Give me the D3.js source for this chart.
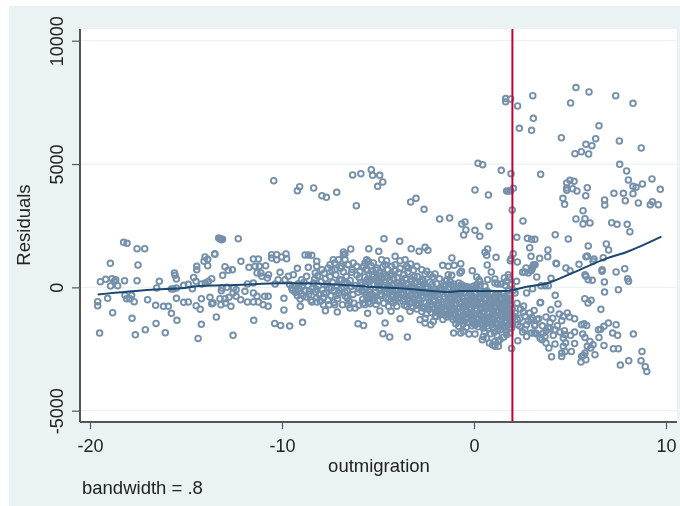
<!DOCTYPE html>
<html>
<head>
<meta charset="utf-8">
<script src="https://cdn.jsdelivr.net/npm/d3@7"></script>
<style>
  html, body { margin: 0; padding: 0; background: #fff; }
  svg { display: block; font-family: "Liberation Sans", Arial, sans-serif; }
</style>
</head>
<body>
<div id="chart"></div>
<script>
const xTicks = [-20, -10, 0, 10];
const yTicks = [-5000, 0, 5000, 10000];
const xTitle = 'outmigration';
const yTitle = 'Residuals';
const note = 'bandwidth = .8';
const cutoff = 2;

const loessX = [-19.6, -16.8, -15.05, -14.27, -12.45, -10, -9.3, -7, -5.24, -3.5, -1.25, -0.73, 0.31, 1.7, 2.74, 3.78, 5.17, 6.91, 7.95, 9.76];
const loessY = [-285, -93, -24, 57, 95, 162, 165, 110, 16, -53, -187, -146, -146, -146, 28, 160, 596, 1176, 1435, 2056];

// outliers above the main band
const upperPoints = [
  [-10.43,4327],[-9.2,3921],[-9.08,4083],[-8.35,4030],[-7.92,3718],[-7.69,3650],[-7.15,3852],
  [-6.32,4557],[-5.89,4610],[-5.35,4773],[-5.28,4542],[-4.91,4542],[-4.75,4274],[-5.02,4096],[-6.13,3313],
  [-3.3,3463],[-3.02,3609],[-2.6,3163],[-1.79,2773],[-1.27,2814],[-0.64,2571],[-0.47,2652],[-0.42,2327],
  [-0.54,2125],[0.05,2311],[0.3,2068],[0.78,2474],[0.71,1557],[0.57,1419],[-4.69,1975],[-3.87,1865],
  [-3.27,1570],[-2.86,1460],[-2.55,1622],[-2.4,1500],[-6.42,1557],[-5.48,1570],[-4.96,1460],[-6.8,1435],
  [0.21,5028],[0.45,4975],[1.42,4744],[1.93,4610],[0.05,3950],[0.75,3747],[1.7,3909],[1.8,3909],[1.91,3921],
  [2.05,4014],[1.99,3138],[1.65,7652],[1.65,7530],[1.91,7639],[2.27,7356],[3.06,7773],[3.09,6853],[2.36,6447],
  [3.0,6366],[5.31,8098],[5.99,7923],[5.03,7477],[7.38,7773],[8.28,7461],[6.51,6557],[4.55,6070],[6.34,6030],
  [7.57,5936],[8.71,5653],[5.83,5799],[6.14,5746],[5.26,5421],[5.59,5502],[5.97,5409],[7.59,4988],[7.95,4720],
  [8.04,4355],[3.47,4582],[9.27,4396],[8.77,4193],[9.7,3974],[8.28,4096],[8.44,4055],[8.28,3799],[7.78,3812],
  [7.29,3812],[7.88,3515],[8.56,3422],[9.18,3353],[9.29,3475],[9.6,3353],[6.8,3544],[6.81,3340],[5.9,4043],
  [5.82,3718],[5.36,3909],[4.995,4339],[5.21,4298],[4.83,4233],[5.14,4002],[4.83,4030],[4.83,3933],[4.63,3609],
  [4.72,3366],[5.68,3110],[5.31,2773],[5.78,2786],[5.68,2571],[6.04,2611],[7.17,2624],[7.45,2555],[7.98,2555],
  [8.12,2259],[2.55,2692],[4.23,2137],[4.91,1963],[5.95,1679],[6.89,1760],[7.01,1517],[2.23,2027],[2.78,1987],
  [3.0,1946],[3.17,1946],[2.9,1610],[3.85,1517],[2.04,1366]
];

// left tail, x below about -12
const leftPoints = [
  [-18.25,1825],[-18.07,1785],[-17.55,1570],[-17.15,1570],[-13.3,2000],[-13.23,1975],[-13.2,1960],[-13.15,1930],
  [-13.1,1950],[-12.28,1975],[-13.5,1366],[-18.94,973],[-17.5,908],[-19.46,231],[-19.18,324],[-18.85,353],
  [-18.73,243],[-18.66,312],[-18.93,57],[-18.56,69],[-18.2,272],[-17.55,272],[-16.39,243],[-16.53,-24],
  [-15.6,584],[-15.57,487],[-15.5,341],[-15.76,-65],[-15.66,-65],[-15.5,-24],[-15.12,81],[-14.88,122],[-14.6,405],
  [-14.48,243],[-14.67,-53],[-14.44,852],[-14.44,718],[-14.01,1233],[-13.87,1136],[-14.06,1054],[-13.87,879],
  [-13.5,1339],[-12.97,838],[-12.8,690],[-12.59,718],[-13.09,487],[-14.18,138],[-14.0,178],[-13.83,243],[-13.66,353],
  [-13.13,-24],[-12.87,0],[-12.52,-24],[-13.16,-134],[-19.6,-580],[-19.6,-742],[-19.08,-446],[-18.82,-1026],
  [-19.5,-1849],[-18.18,-324],[-18.09,-458],[-17.83,-324],[-17.92,-458],[-17.7,-580],[-17.0,-499],[-16.58,-730],
  [-16.17,-770],[-15.92,-770],[-15.76,-1054],[-15.47,-1338],[-17.81,-1257],[-15.5,-446],[-15.12,-608],[-14.88,-592],
  [-14.2,-458],[-14.47,-742],[-14.26,-892],[-13.75,-405],[-13.59,-633],[-13.66,-660],[-13.42,-1200],[-14.2,-1500],
  [-16.56,-1460],[-17.64,-1922],[-17.12,-1715],[-16.08,-1838],[-14.37,-2068],[-12.55,-1946],[-13.23,-458],[-12.97,-458],
  [-13.18,-702],[-12.94,-633],[-12.76,-405],[-12.66,-770],[-12.55,-227]
];

// middle, x from -12.4 to about -6
const middlePoints = [
  [-12.14,1054],[-11.49,1150],[-11.23,1150],[-10.54,1326],[-10.54,1189],[-10.28,1326],[-10.28,1123],[-9.79,1354],
  [-9.76,1164],[-10.02,1233],[-8.8,1314],[-8.63,1314],[-8.45,1298],[-11.72,811],[-11.4,852],[-11.18,852],[-10.85,879],
  [-11.3,584],[-11.1,584],[-9.2,771],[-10.1,608],[-8.63,811],[-8.19,1054],[-8.19,852],[-8.27,584],[-7.92,718],
  [-7.33,1123],[-7.25,990],[-7.5,920],[-7.6,787],[-7.07,1123],[-6.8,1326],[-6.9,852],[-7.25,718],[-10.7,515],[-10.76,381],
  [-11.05,446],[-10.2,312],[-11.49,178],[-11.8,138],[-10.36,138],[-9.67,446],[-9.41,515],[-8.72,446],[-8.98,312],[-9.84,312],
  [-11.93,-162],[-12.39,-93],[-12.39,-365],[-12.15,-499],[-11.8,-592],[-11.49,-227],[-11.3,-365],[-11.49,-592],[-11.23,-592],
  [-10.9,-365],[-10.72,-365],[-10.98,-702],[-10.72,-770],[-9.9,-446],[-9.9,-916],[-9.05,-770],[-11.47,-1338],[-10.38,-1460],
  [-10.07,-1541],[-9.6,-1566],[-8.93,-1419],[-7.74,-945],[-7.12,-998],[-8.44,-592],[-8.19,-592],[-7.85,-702],[-7.25,-702],
  [-9.6,120],[-9.5,-30],[-9.45,-120],[-9.3,60],[-9.3,-210],[-9.2,-340],[-9.15,150],[-9.1,-60],[-9.05,-470],[-9.0,-250],
  [-8.95,40],[-8.85,210],[-8.8,-130],[-8.75,-390],[-8.65,90],[-8.6,-280],[-8.5,-520],[-8.4,-40],[-8.35,180],[-8.3,340],
  [-8.25,-180],[-8.2,-420],[-8.15,470],[-8.1,60],[-8.05,-300],[-8.0,-560],[-7.95,230],[-7.9,-90],[-7.85,-410],[-7.8,580],
  [-7.75,350],[-7.7,-220],[-7.65,120],[-7.6,-520],[-7.55,-30],[-7.5,430],[-7.45,-340],[-7.4,690],[-7.35,200],[-7.3,-130],
  [-7.3,-610],[-7.2,510],[-7.15,70],[-7.1,-460],[-7.05,-240],[-7.0,300],[-6.95,780],[-6.9,-50],[-6.85,-700],[-6.8,620],
  [-6.75,180],[-6.7,-350],[-6.65,450],[-6.6,-140],[-6.55,930],[-6.5,-560],[-6.45,280],[-6.4,40],[-6.35,720],[-6.3,-290],
  [-6.72,1354],[-6.72,1123],[-6.29,990],[-6.55,920],[-6.11,852],[-6.46,-835],[-6.2,-835],[-6.55,-702]
];

// dense band, x from -6 to -1.4
const bandPoints = [
  [-4.11,1257],[-3.59,1123],[-3.85,1083],[-4.55,1083],[-4.81,1123],[-5.59,1123],[-5.5,1054],[-5.68,990],[-3.3,949],[-3.42,787],
  [-3.51,852],[-1.63,892],[-2.98,852],[-2.72,718],[-2.46,649],[-2.03,543],[-2.29,515],[-5.24,990],[-5.07,787],[-4.63,920],
  [-4.28,852],[-4.11,920],[-5.54,-1054],[-4.9,-957],[-4.32,-973],[-5.68,-702],[-5.42,-661],[-6.04,-1472],[-5.75,-1541],
  [-4.63,-1444],[-3.85,-1269],[-4.74,-1878],[-4.39,-2011],[-3.47,-2011],[-4.45,-770],[-4.02,-770],[-3.33,-973],[-3.5,-770],
  [-2.55,-1444],[-2.81,-1310],[-2.25,-1512],[-2.12,-1379],[-2.55,-1257],[-2.03,-1176],[-1.86,-1038],
  [-5.95,640],[-5.9,210],[-5.85,-120],[-5.8,-480],[-5.75,860],[-5.7,420],[-5.65,30],[-5.6,-300],[-5.55,680],[-5.5,-590],
  [-5.45,240],[-5.4,-80],[-5.35,880],[-5.3,520],[-5.25,-420],[-5.2,120],[-5.15,-220],[-5.1,700],[-5.05,360],[-5.0,-540],
  [-4.95,-40],[-4.9,600],[-4.85,220],[-4.8,-330],[-4.75,840],[-4.7,-640],[-4.65,80],[-4.6,460],[-4.55,-170],[-4.5,720],
  [-4.45,-480],[-4.4,290],[-4.35,-60],[-4.3,560],[-4.25,-290],[-4.2,-620],[-4.15,150],[-4.1,680],[-4.05,-120],[-4.0,400],
  [-3.95,-420],[-3.9,40],[-3.85,770],[-3.8,-230],[-3.75,240],[-3.7,-560],[-3.65,520],[-3.6,-60],[-3.55,-380],[-3.5,130],
  [-3.45,620],[-3.4,-180],[-3.35,-650],[-3.3,340],[-3.25,-30],[-3.2,-440],[-3.15,700],[-3.1,170],[-3.05,-260],[-3.0,-720],
  [-2.95,440],[-2.9,-90],[-2.85,-520],[-2.8,60],[-2.75,-340],[-2.7,-830],[-2.65,280],[-2.6,-170],[-2.55,540],[-2.5,-620],
  [-2.45,20],[-2.4,-400],[-2.35,-900],[-2.3,210],[-2.25,-230],[-2.2,-680],[-2.15,420],[-2.1,-70],[-2.05,-510],[-2.0,-1000],
  [-1.95,150],[-1.9,-300],[-1.85,-760],[-1.8,350],[-1.75,-110],[-1.7,-590],[-1.65,-1080],[-1.6,80],[-1.55,-370],[-1.5,-860],
  [-1.45,260],[-1.4,-190],[-1.4,-670],[-1.42,-1200],[-3.7,180],[-4.2,-350],[-5.3,-300],[-2.7,320],[-3.3,-300],[-4.8,380]
];

// second pass over the same band, it reads as nearly solid
const bandFill = [
  [-6.9,300],[-6.6,-430],[-6.37,610],[-6.2,80],[-6.05,-200],[-5.97,390],[-5.78,-640],[-5.62,720],[-5.48,-170],[-5.33,310],
  [-5.18,-520],[-5.02,120],[-4.88,-280],[-4.72,540],[-4.58,-430],[-4.46,60],[-4.33,-560],[-4.18,350],[-4.03,-330],[-3.92,590],
  [-3.78,-90],[-3.63,-480],[-3.52,310],[-3.38,-20],[-3.22,-590],[-3.12,430],[-3.02,-150],[-2.88,-700],[-2.78,230],[-2.66,-420],
  [-2.52,-20],[-2.42,-760],[-2.28,-330],[-2.18,130],[-2.08,-880],[-1.98,-200],[-1.88,-620],[-1.76,-1010],[-1.68,-40],[-1.58,-480],
  [-1.48,-1120],[-6.1,500],[-5.85,100],[-5.58,-420],[-5.28,660],[-4.98,240],[-4.68,-180],[-4.38,480],[-4.08,-520],[-3.82,100],
  [-3.48,-200],[-3.18,60],[-2.92,-300],[-2.62,120],[-2.32,-580],[-2.02,-360],[-1.72,-860],[-1.52,40],[-2.72,-980],[-2.48,-1080],
  [-2.22,-1020],[-1.96,-1180],[-1.62,-1300],[-2.98,-880],[-3.22,-820],[-3.62,-720],[-5.1,-690],[-6.25,-640],[-6.0,-720],[-7.55,-700],
  [-2.9,-640],[-2.58,-850],[-2.3,-760],[-2.12,-560],[-1.92,-900],[-1.64,-720],[-1.46,-980],[-3.42,-480],[-3.1,-520],[-2.78,-200],
  [-2.44,-250],[-2.14,-180],[-1.84,-90],[-4.52,-60],[-4.22,-180],[-3.94,-260],[-3.68,-300],[-5.72,-200],[-5.44,-460],[-5.12,-360],
  [-4.86,-130],[-4.62,210],[-4.28,90],[-3.98,180],[-3.58,360],[-3.26,240],[-5.56,320],[-5.22,440],[-4.92,460],[-4.5,400],[-6.02,-60],
  [-6.6,170],[-7.02,-110],[-7.42,-30],[-7.82,-250],[-8.22,-80],[-8.58,-150],[-8.9,-330],[-9.28,-90],[-6.72,-200],[-7.18,-330]
];

// right part of the main band, x from -1.4 to 9
const lowerPoints = [
  [-0.69,961],[-1.03,892],[-1.34,852],[0.66,1298],[1.15,1217],[1.93,1164],[1.89,1083],[2.26,1030],[-1.15,1192],[0.69,908],
  [-0.09,677],[0.9,624],[-0.73,584],[-0.65,649],[-1.16,487],[-1.34,515],[0.14,422],[0.26,312],[0.31,219],[0.71,312],[1.09,341],
  [1.58,381],[1.79,515],[1.82,405],[1.7,243],[2.22,243],[1.41,138],[1.23,138],[1.09,178],[1.62,81],[1.96,109],[-0.8,178],[-1.07,138],
  [-0.65,109],[-0.47,41],[-0.3,14],[-0.03,41],[0.14,109],[0.31,81],[0.57,41],[-1.42,312],[-1.25,243],[2.71,787],[2.65,624],[2.53,608],
  [2.83,584],[2.97,677],[3.09,892],[3.04,787],[3.18,920],[2.74,-227],[2.05,-122],[2.14,-227],[1.56,-255],[1.09,-405],[1.62,-592],[1.875,-499],
  [2.14,-1038],[2.26,-1310],[2.57,-998],[2.66,-1176],[2.4,-1257],[2.28,-1512],[2.4,-1581],[2.74,-1512],[2.74,-1987],[3.18,-1512],[3.21,-1849],
  [3.0,-1849],[2.53,-1809],[2.65,-1715],[2.28,-2161],[1.96,-2474],[1.35,-2121],[1.27,-2392],[1.09,-2392],[0.97,-2324],[0.8,-2255],[0.43,-2121],
  [0.48,-1987],[0.65,-2052],[1.27,-2190],[1.09,-2190],[1.7,-1918],[1.87,-1849],[1.96,-1646],[1.79,-1512],[1.62,-1379],[1.45,-1512],[0.05,-1890],
  [-0.26,-1890],[-0.56,-1784],[-0.69,-1849],[-1.06,-1849],[-0.56,-1485],[-0.8,-1581],[0.05,-1512],[-0.03,-1310],[0.48,-1646],
  [3.84,1244],[3.42,1176],[2.97,1257],[3.1,920],[3.05,811],[3.0,718],[4.27,973],[4.3,960],[5.83,1245],[5.9,1270],[6.25,1150],[6.2,1054],
  [6.73,1204],[5.47,933],[4.79,787],[5.0,677],[5.78,515],[5.83,446],[5.95,312],[6.16,284],[6.67,718],[6.67,649],[7.4,624],[7.85,758],
  [8.0,353],[8.05,243],[6.79,219],[6.8,-187],[7.52,-93],[3.27,422],[4.01,365],[3.49,69],[3.7,69],[3.87,69],[3.05,-53],[4.23,-324],[4.375,-673],
  [3.44,-620],[3.47,-610],[3.13,-933],[4.0,-904],[5.77,-458],[5.94,-633],[6.1,-527],[6.61,-892],[3.37,-1269],[3.75,-1200],[4.44,-1079],
  [4.65,-1176],[4.86,-1038],[4.97,-1200],[5.24,-1269],[4.57,-1350],[2.97,-1310],[3.16,-1553],[4.34,-1553],[3.87,-1622],[3.75,-1756],
  [5.73,-1472],[5.87,-1541],[5.6,-1512],[7.0,-1444],[7.4,-1512],[6.77,-1581],[6.48,-1715],[6.6,-1700],[7.22,-1849],[7.48,-1946],[8.3,-1890],
  [6.51,-2028],[5.66,-1890],[5.78,-2028],[6.04,-2190],[5.9,-2392],[6.2,-2324],[6.08,-2457],[6.77,-2352],[7.26,-2486],[7.52,-2486],[8.75,-2595],
  [6.3,-2729],[5.7,-2757],[5.78,-2660],[5.61,-2798],[5.83,-2932],[5.57,-3025],[8.06,-2972],[7.62,-3147],[8.7,-2972],[8.92,-3216],[9.0,-3406],
  [5.07,-2595],[5.24,-2271],[5.03,-1946],[5.24,-1809],[4.71,-1756],[4.48,-1809],[4.74,-1918],[4.65,-2052],[4.13,-1946],[4.22,-1715],[3.96,-1675],
  [3.54,-2121],[3.7,-1987],[3.44,-2052],[3.61,-1849],[4.22,-2295],[3.75,-2255],[3.9,-2457],[4.04,-2810],[4.57,-2660],[4.57,-2798],[4.74,-2595],
  [4.65,-2392],[4.77,-2255],[3.13,-1849],[3.27,-1890]
];

// the thick mass around x = 0
const centrePoints = [
  [-1.35,-60],[-1.3,-420],[-1.28,-780],[-1.25,-1050],[-1.2,120],[-1.18,-250],[-1.15,-610],[-1.12,-930],[-1.1,-1290],[-1.05,20],[-1.02,-350],
  [-1.0,-700],[-0.98,-1120],[-0.95,-1480],[-0.9,-150],[-0.88,-510],[-0.85,-860],[-0.82,-1220],[-0.78,60],[-0.75,-290],[-0.72,-640],[-0.7,-1000],
  [-0.66,-1370],[-0.62,-90],[-0.6,-440],[-0.58,-800],[-0.55,-1150],[-0.5,-200],[-0.48,-560],[-0.45,-920],[-0.42,-1270],[-0.4,-1620],[-0.36,-40],
  [-0.34,-380],[-0.3,-730],[-0.28,-1080],[-0.25,-1430],[-0.2,-160],[-0.18,-500],[-0.15,-850],[-0.12,-1200],[-0.1,-1560],[-0.06,-70],[-0.04,-420],
  [0.0,-760],[0.02,-1110],[0.05,-1380],[0.09,-220],[0.12,-570],[0.15,-920],[0.18,-1260],[0.22,-1600],[0.26,-110],[0.28,-460],[0.31,-810],[0.34,-1150],
  [0.38,-1480],[0.41,-280],[0.44,-640],[0.47,-990],[0.5,-1330],[0.54,-1790],[0.58,-170],[0.6,-520],[0.63,-870],[0.66,-1210],[0.7,-1560],[0.74,-340],
  [0.77,-700],[0.8,-1050],[0.83,-1400],[0.87,-1880],[0.9,-240],[0.93,-580],[0.96,-930],[1.0,-1270],[1.03,-1640],[1.07,-420],[1.1,-770],[1.13,-1120],
  [1.16,-1470],[1.2,-1950],[1.24,-310],[1.27,-650],[1.3,-1000],[1.33,-1340],[1.37,-1720],[1.4,-500],[1.43,-850],[1.46,-1190],[1.5,-1560],[1.54,-2020],
  [1.58,-380],[1.6,-730],[1.63,-1080],[1.66,-1420],[1.7,-1790],[1.73,-570],[1.76,-920],[1.79,-1260],[1.83,-1630],[1.87,-330],[1.9,-690],[1.93,-1040],
  [1.96,-1380],[1.99,-880],[1.98,-1150]
];

// second pass over the centre mass
const centreFill = [
  [-1.38,-300],[-1.22,-880],[-1.08,-180],[-0.94,-620],[-0.8,-1080],[-0.68,-240],[-0.52,-720],[-0.46,-1090],[-0.38,-560],[-0.24,-260],
  [-0.14,-1020],[-0.02,-600],[0.08,-40],[0.16,-1250],[0.24,-720],[0.36,-400],[0.48,-1080],[0.56,-760],[0.68,-150],[0.72,-1320],[0.84,-480],
  [0.92,-1130],[1.04,-840],[1.12,-300],[1.22,-1240],[1.32,-700],[1.42,-1080],[1.52,-260],[1.62,-900],[1.72,-1380],[1.84,-560],[1.92,-1200],
  [-1.2,-480],[-0.92,-1320],[-0.6,-1320],[-0.32,-1280],[-0.06,-1450],[0.2,-1430],[0.46,-1500],[0.76,-1660],[1.06,-1820],[1.34,-1600],[1.6,-1620],
  [-1.32,-1120],[-0.78,-420],[-0.42,-780],[-0.1,-340],[0.2,-380],[0.52,-240],[0.86,-780],[1.18,-560],[1.48,-440],[1.78,-140],[1.66,-1120],
  [2.1,-1180],[2.24,-640],[2.42,-880],[2.58,-760],[2.82,-1360],[2.9,-1040],[3.02,-1220],[3.28,-1300],[3.56,-1560],[3.96,-1420],[4.1,-1250],
  [-1.26,-660],[-1.14,-400],[-1.04,-900],[-0.86,-290],[-0.74,-800],[-0.64,-1180],[-0.54,-470],[-0.4,-1000],[-0.3,-560],[-0.2,-830],[-0.08,-1180],
  [0.04,-480],[0.1,-860],[0.28,-1040],[0.34,-620],[0.42,-860],[0.54,-1240],[0.62,-420],[0.74,-1020],[0.8,-600],[0.9,-900],[0.98,-1420],[1.08,-620],
  [1.16,-960],[1.26,-1460],[1.36,-420],[1.44,-760],[1.52,-1120],[1.56,-640],[1.68,-480],[1.74,-1180],[1.82,-820],[1.9,-440],[1.94,-1500],
  [-1.18,-1180],[-0.76,-1300],[-0.34,-1400],[0.12,-1500],[0.6,-1420],[0.94,-1520],[1.24,-1730],[-1.0,-80],[-0.56,-60],[-0.16,-110],[0.3,-160],[0.7,-260]
];

const points = [].concat(upperPoints, leftPoints, middlePoints, bandPoints, bandFill, lowerPoints, centrePoints, centreFill);

const width = 680, height = 506;
const frame = {left: 9, top: 6};
const plot = {left: 80, right: 677, top: 29, bottom: 422};

const x = d3.scaleLinear().domain([-20, 10]).range([90, 666]);
const y = d3.scaleLinear().domain([-5000, 10000]).range([410.7, 40.7]);

const svg = d3.select('#chart').append('svg')
  .attr('width', width)
  .attr('height', height)
  .attr('viewBox', `0 0 ${width} ${height}`);

// the reference is a slightly soft scan
const soft = svg.append('defs').append('filter').attr('id', 'soft');
soft.append('feGaussianBlur').attr('stdDeviation', 0.45);

const root = svg.append('g').attr('filter', 'url(#soft)');

root.append('rect')
  .attr('x', frame.left)
  .attr('y', frame.top)
  .attr('width', width - frame.left)
  .attr('height', height - frame.top)
  .attr('fill', '#eaf2f3');

root.append('rect')
  .attr('x', plot.left)
  .attr('y', plot.top)
  .attr('width', plot.right - plot.left)
  .attr('height', plot.bottom - plot.top)
  .attr('fill', '#fff');

root.append('g')
  .selectAll('line')
  .data(yTicks)
  .join('line')
    .attr('x1', plot.left)
    .attr('x2', plot.right)
    .attr('y1', d => y(d))
    .attr('y2', d => y(d))
    .attr('stroke', '#eaf2f3')
    .attr('stroke-width', 1.2);

root.append('g')
  .selectAll('circle')
  .data(points)
  .join('circle')
    .attr('cx', d => x(d[0]))
    .attr('cy', d => y(d[1]))
    .attr('r', 2.8)
    .attr('fill', 'none')
    .attr('stroke', '#7490ab')
    .attr('stroke-width', 1.9);

root.append('line')
  .attr('x1', x(cutoff))
  .attr('x2', x(cutoff))
  .attr('y1', plot.top)
  .attr('y2', plot.bottom)
  .attr('stroke', '#c10534')
  .attr('stroke-width', 2);

const loess = d3.line()
  .x(d => x(d[0]))
  .y(d => y(d[1]))
  .curve(d3.curveMonotoneX);

root.append('path')
  .attr('d', loess(d3.zip(loessX, loessY)))
  .attr('fill', 'none')
  .attr('stroke', '#1a476f')
  .attr('stroke-width', 2);

const xAxis = d3.axisBottom(x).tickValues(xTicks).tickSize(7).tickSizeOuter(0).tickPadding(10).tickFormat(d => d);
const yAxis = d3.axisLeft(y).tickValues(yTicks).tickSize(8).tickSizeOuter(0).tickFormat(d => d);

const gx = root.append('g').attr('transform', `translate(0,${plot.bottom})`).call(xAxis);
const gy = root.append('g').attr('transform', `translate(${plot.left},0)`).call(yAxis);

gx.select('.domain').attr('d', `M${plot.left},0H${plot.right}`);
gy.select('.domain').attr('d', `M0,${plot.top}V${plot.bottom}`);

[gx, gy].forEach(g => {
  g.select('.domain').attr('stroke', '#555').attr('stroke-width', 2);
  g.selectAll('.tick line').attr('stroke', '#555').attr('stroke-width', 1.2);
  g.selectAll('.tick text')
    .attr('fill', '#222')
    .attr('font-size', 18)
    .attr('font-family', '"Liberation Sans", Arial, sans-serif');
});

gy.selectAll('.tick text')
  .attr('text-anchor', 'middle')
  .attr('dy', 0)
  .attr('x', 0)
  .attr('y', 0)
  .attr('transform', 'translate(-17,0) rotate(-90)');

root.append('text')
  .attr('x', 379)
  .attr('y', 472)
  .attr('text-anchor', 'middle')
  .attr('font-size', 18.5)
  .attr('fill', '#222')
  .text(xTitle);

root.append('text')
  .attr('transform', 'translate(30,225) rotate(-90)')
  .attr('text-anchor', 'middle')
  .attr('font-size', 18.5)
  .attr('fill', '#222')
  .text(yTitle);

root.append('text')
  .attr('x', 82)
  .attr('y', 494)
  .attr('font-size', 18.5)
  .attr('fill', '#222')
  .text(note);
</script>
</body>
</html>
